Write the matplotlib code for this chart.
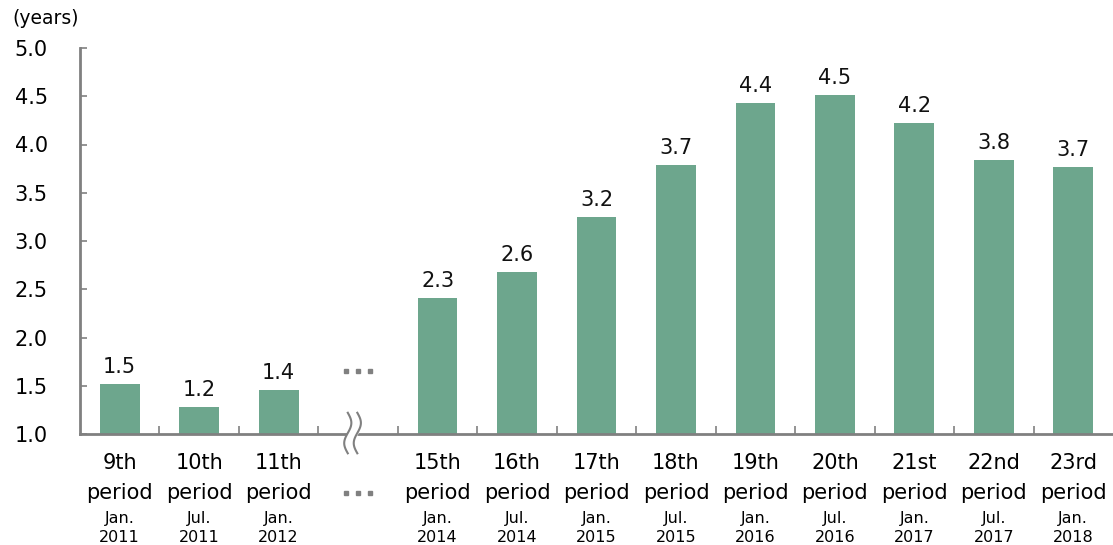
import numpy as np
import matplotlib
matplotlib.use("Agg")
import matplotlib.pyplot as plt

# ---- data ----
periods = ["9th", "10th", "11th", "15th", "16th", "17th", "18th", "19th",
           "20th", "21st", "22nd", "23rd"]
months = ["Jan.", "Jul.", "Jan.", "Jan.", "Jul.", "Jan.", "Jul.", "Jan.",
          "Jul.", "Jan.", "Jul.", "Jan."]
years = ["2011", "2011", "2012", "2014", "2014", "2015", "2015", "2016",
         "2016", "2017", "2017", "2018"]
values = [1.52, 1.28, 1.46, 2.41, 2.68, 3.25, 3.79, 4.43, 4.51, 4.22, 3.84, 3.77]
value_labels = ["1.5", "1.2", "1.4", "2.3", "2.6", "3.2", "3.7", "4.4",
                "4.5", "4.2", "3.8", "3.7"]
positions = [0, 1, 2, 4, 5, 6, 7, 8, 9, 10, 11, 12]
gap_position = 3

bar_color = "#6DA68D"
axis_color = "#808080"

fig = plt.figure(figsize=(11.13, 5.45), dpi=100)
ax = fig.add_axes([80 / 1113, 1 - 434 / 545, 1 - 80 / 1113, (434 - 48) / 545])

base = 1.0
ax.bar(positions, [v - base for v in values], bottom=base, width=0.5,
       color=bar_color, zorder=2)

for x, v, lab in zip(positions, values, value_labels):
    ax.annotate(lab, (x, v), xytext=(0, 5), textcoords="offset points",
                ha="center", va="bottom", fontsize=15, color="#111111")

ax.set_xlim(-0.5, 12.5)
ax.set_ylim(1.0, 5.0)
ax.set_yticks(np.arange(1.0, 5.01, 0.5))
ax.set_yticklabels([f"{t:.1f}" for t in np.arange(1.0, 5.01, 0.5)],
                   fontsize=15, ha="left")
ax.tick_params(axis="y", direction="in", length=5, width=1.2, color=axis_color,
               pad=47)
ax.set_xticks([p + 0.5 for p in range(0, 12)])
ax.set_xticklabels([])
ax.tick_params(axis="x", direction="in", length=6, width=1.2, color=axis_color)

for s in ["top", "right"]:
    ax.spines[s].set_visible(False)
for s in ["left", "bottom"]:
    ax.spines[s].set_color(axis_color)
    ax.spines[s].set_linewidth(2)

# category labels
trans = ax.get_xaxis_transform()
for x, p, m, y in zip(positions, periods, months, years):
    ax.text(x, -0.075, p, transform=trans, ha="center", va="center", fontsize=15)
    ax.text(x, -0.153, "period", transform=trans, ha="center", va="center", fontsize=15)
    ax.text(x, -0.22, m, transform=trans, ha="center", va="center", fontsize=11.5)
    ax.text(x, -0.267, y, transform=trans, ha="center", va="center", fontsize=11.5)

# ellipsis markers in gap
for dx in (-0.15, 0, 0.15):
    ax.plot(gap_position + dx, 1.655, marker="s", ms=3.0, color=axis_color,
            clip_on=False, zorder=3)
    ax.plot(gap_position + dx, -0.153, marker="s", ms=3.0, color=axis_color,
            transform=trans, clip_on=False, zorder=3)

# axis break mark
t = np.linspace(0, 1, 60)
yb = 1.22 - t * 0.42
xc = 2.87
amp = 0.045
w1 = xc + amp * np.sin(2 * np.pi * t)
w2 = w1 + 0.12
ax.fill_betweenx(yb, w1, w2, color="white", zorder=4, clip_on=False)
ax.plot(w1, yb, color=axis_color, lw=1.5, clip_on=False, zorder=5)
ax.plot(w2, yb, color=axis_color, lw=1.5, clip_on=False, zorder=5)

fig.text(12 / 1113, 1 - 18 / 545, "(years)", ha="left", va="center", fontsize=13.5)

fig.savefig("out.png", dpi=100)
